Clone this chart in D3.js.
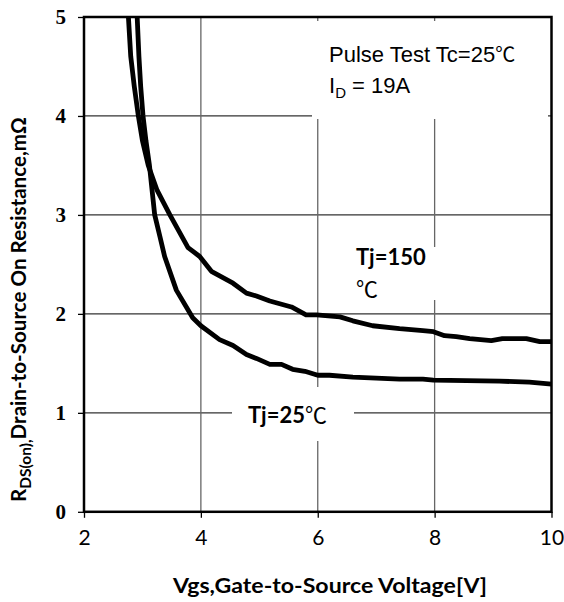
<!DOCTYPE html>
<html>
<head>
<meta charset="utf-8">
<script src="https://cdn.jsdelivr.net/npm/d3@7"></script>
<style>
  body { margin: 0; background: #fff; }
  svg { display: block; }
</style>
</head>
<body>
<svg id="chart" width="564" height="602"></svg>
<script>
// Tj = 150°C curve (Vgs in V, Rds(on) in mOhm)
const tj150Vgs = [2.76, 2.80, 2.86, 2.93, 3.0, 3.1, 3.25, 3.47, 3.78, 3.98, 4.18, 4.55, 4.78, 4.95, 5.18, 5.55, 5.8, 5.98, 6.38, 6.6, 6.94, 7.4, 7.8, 7.98, 8.17, 8.37, 8.6, 8.97, 9.16, 9.57, 9.8, 10];
const tj150Rds = [5.0, 4.6, 4.3, 4.0, 3.75, 3.5, 3.25, 3.0, 2.67, 2.58, 2.43, 2.31, 2.21, 2.18, 2.13, 2.07, 1.99, 1.99, 1.97, 1.93, 1.88, 1.85, 1.83, 1.82, 1.78, 1.77, 1.75, 1.73, 1.75, 1.75, 1.72, 1.72];
// Tj = 25°C curve
const tj25Vgs = [2.91, 2.94, 2.97, 3.01, 3.06, 3.12, 3.21, 3.3, 3.38, 3.58, 3.86, 4.0, 4.32, 4.55, 4.78, 4.95, 5.18, 5.38, 5.57, 5.78, 6.0, 6.2, 6.6, 7.4, 7.8, 7.98, 9.11, 9.62, 10];
const tj25Rds = [5.0, 4.6, 4.3, 4.0, 3.75, 3.5, 3.0, 2.78, 2.58, 2.24, 1.96, 1.88, 1.74, 1.68, 1.59, 1.55, 1.49, 1.49, 1.44, 1.42, 1.38, 1.38, 1.36, 1.34, 1.34, 1.33, 1.32, 1.31, 1.29];

const xTicks = [2, 4, 6, 8, 10];
const yTicks = [0, 1, 2, 3, 4, 5];
const xGrid = [4, 6, 8];
const yGrid = [1, 2, 3, 4];

const svg = d3.select("#chart");
const plotLeft = 84, plotRight = 551.5, plotTop = 17, plotBottom = 511.8;

const x = d3.scaleLinear().domain([2, 10]).range([plotLeft, plotRight]);
const y = d3.scaleLinear().domain([0, 5]).range([plotBottom, plotTop]);

// Grid.
svg.append("g").selectAll("line").data(yGrid).join("line")
  .attr("x1", plotLeft).attr("x2", plotRight)
  .attr("y1", d => y(d)).attr("y2", d => y(d))
  .attr("stroke", "#333").attr("stroke-width", 1.2);
svg.append("g").selectAll("line").data(xGrid).join("line")
  .attr("x1", d => x(d)).attr("x2", d => x(d))
  .attr("y1", plotTop).attr("y2", plotBottom)
  .attr("stroke", "#666").attr("stroke-width", 1.3);

// Axes (ticks + labels only, frame drawn separately).
const yAxis = svg.append("g")
  .attr("transform", `translate(${plotLeft},0)`)
  .call(d3.axisLeft(y).tickValues(yTicks).tickSize(6).tickPadding(12).tickFormat(d3.format("d")));
yAxis.select(".domain").remove();
yAxis.selectAll("line").attr("stroke", "#000").attr("stroke-width", 1.3);
yAxis.selectAll("text")
  .attr("font-family", "'Liberation Serif', serif")
  .attr("font-weight", "bold")
  .attr("font-size", 21)
  .attr("fill", "#000");

const xAxis = svg.append("g")
  .attr("transform", `translate(0,${plotBottom})`)
  .call(d3.axisBottom(x).tickValues(xTicks).tickSize(6).tickPadding(12).tickFormat(d3.format("d")));
xAxis.select(".domain").remove();
xAxis.selectAll("line").attr("stroke", "#000").attr("stroke-width", 1.3);
xAxis.selectAll("text")
  .attr("font-family", "Lato, sans-serif")
  .attr("font-size", 21)
  .attr("fill", "#000");

// White boxes behind annotations.
const boxes = [
  { x0: 312, y0: 21, x1: 548, y1: 119 },
  { x0: 345, y0: 247, x1: 437, y1: 300 },
  { x0: 232, y0: 387, x1: 354, y1: 441 }
];
svg.append("g").selectAll("rect").data(boxes).join("rect")
  .attr("x", d => d.x0).attr("y", d => d.y0)
  .attr("width", d => d.x1 - d.x0).attr("height", d => d.y1 - d.y0)
  .attr("fill", "#fff");

// Curves.
const line = d3.line().x(d => x(d[0])).y(d => y(d[1]));
svg.append("g").selectAll("path")
  .data([d3.zip(tj150Vgs, tj150Rds), d3.zip(tj25Vgs, tj25Rds)])
  .join("path")
  .attr("d", line)
  .attr("fill", "none")
  .attr("stroke", "#000")
  .attr("stroke-width", 4.8)
  .attr("stroke-linejoin", "round");

// Frame.
svg.append("rect")
  .attr("x", plotLeft).attr("y", plotTop)
  .attr("width", plotRight - plotLeft).attr("height", plotBottom - plotTop)
  .attr("fill", "none").attr("stroke", "#000").attr("stroke-width", 2.5);

// Legend text.
const note = svg.append("g")
  .attr("font-family", "'Liberation Sans', Arial, sans-serif")
  .attr("font-size", 22)
  .attr("fill", "#000");
const n1 = note.append("text").attr("x", 329).attr("y", 62);
n1.append("tspan").text("Pulse Test Tc=25");
n1.append("tspan").attr("font-family", "'Noto Sans CJK SC'").attr("font-size", 20).text("℃");
const n2 = note.append("text").attr("x", 329).attr("y", 93);
n2.append("tspan").text("I");
n2.append("tspan").attr("font-size", 15).attr("dy", 5).text("D");
n2.append("tspan").attr("dy", -5).text(" = 19A");

// Curve labels.
const lab = svg.append("g")
  .attr("font-family", "Lato, sans-serif")
  .attr("font-weight", "bold")
  .attr("font-size", 22)
  .attr("fill", "#000");
lab.append("text").attr("x", 356).attr("y", 265).text("Tj=150");
lab.append("text").attr("x", 356).attr("y", 297)
  .attr("font-family", "'Noto Sans CJK SC'").attr("font-weight", "normal").text("℃");
const t25 = lab.append("text").attr("x", 248).attr("y", 423);
t25.append("tspan").text("Tj=25");
t25.append("tspan").attr("font-family", "'Noto Sans CJK SC'").attr("font-weight", "normal").text("℃");

// Axis titles.
svg.append("text")
  .attr("x", 330).attr("y", 593)
  .attr("text-anchor", "middle")
  .attr("font-family", "Lato, sans-serif")
  .attr("font-weight", "bold")
  .attr("font-size", 21)
  .attr("textLength", 314)
  .attr("lengthAdjust", "spacingAndGlyphs")
  .text("Vgs,Gate-to-Source Voltage[V]");

const yTitle = svg.append("text")
  .attr("transform", "translate(26,502) rotate(-90)")
  .attr("font-family", "Lato, sans-serif")
  .attr("font-weight", "bold")
  .attr("font-size", 20.6);
yTitle.append("tspan").text("R");
yTitle.append("tspan").attr("font-size", 15.5).attr("dy", 5).text("DS(on),");
yTitle.append("tspan").attr("dy", -5).text("Drain-to-Source On Resistance,mΩ");
</script>
</body>
</html>
